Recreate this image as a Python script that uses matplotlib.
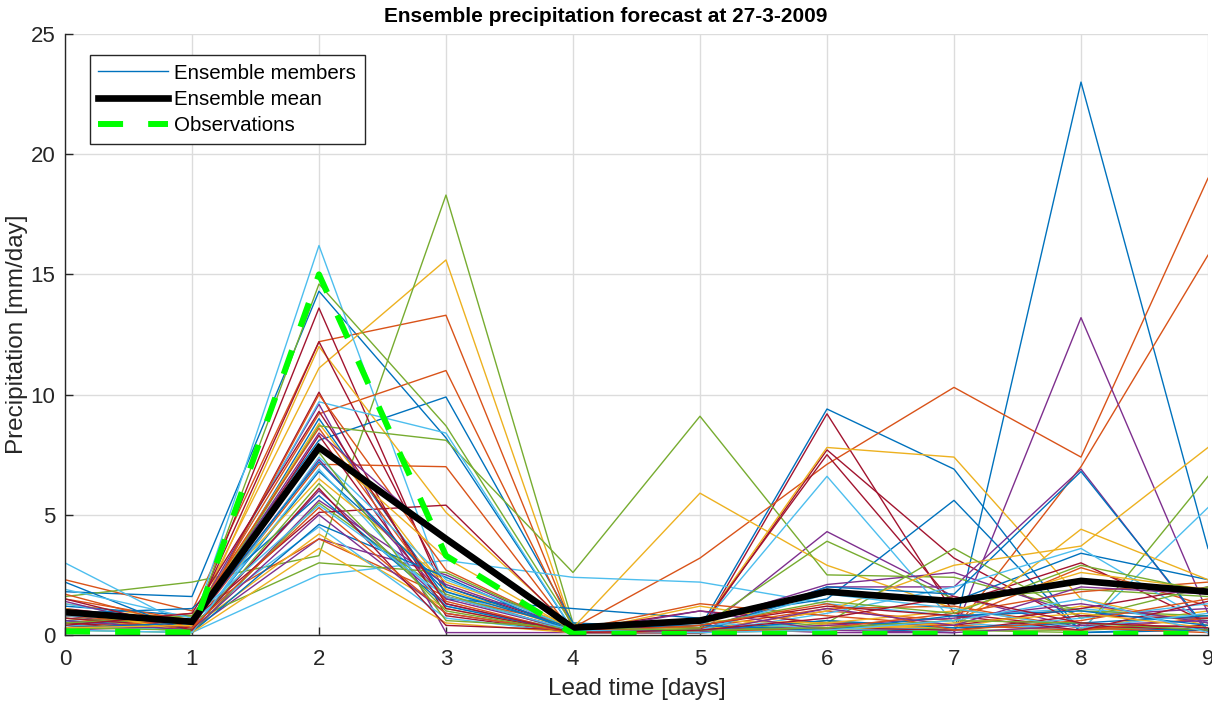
import numpy as np
import matplotlib.pyplot as plt
from cycler import cycler

# ------------------------------------------------------------
# Forecast data (mm/day) per lead time
# ------------------------------------------------------------
lead_days = [0, 1, 2, 3, 4, 5, 6, 7, 8, 9]

# ensemble members, in plotting order (colour follows the default cycle)
members = [
    [1.8, 1.6, 14.3, 8.2, 0.2, 0.1, 0.3, 0.1, 23.0, 3.6],
    [2.3, 1.0, 12.2, 13.3, 0.3, 0.1, 0.4, 0.2, 7.0, 15.8],
    [1.3, 0.6, 11.1, 15.6, 0.3, 0.1, 0.4, 0.3, 1.2, 0.6],
    [0.5, 0.3, 6.0, 1.3, 0.1, 0.1, 4.3, 1.6, 0.3, 0.2],
    [1.6, 2.2, 3.3, 18.3, 0.5, 0.2, 0.3, 0.2, 0.2, 0.4],
    [3.0, 0.3, 16.2, 1.8, 0.1, 0.1, 0.2, 0.3, 0.4, 0.2],
    [0.9, 0.4, 13.6, 1.6, 0.2, 0.1, 9.2, 0.9, 0.3, 0.4],

    [1.2, 0.8, 8.1, 9.9, 0.5, 0.3, 9.4, 6.9, 0.1, 0.2],
    [1.5, 0.6, 9.2, 11.0, 0.3, 3.2, 7.1, 10.3, 7.4, 19.0],
    [0.7, 0.2, 12.0, 5.1, 0.3, 5.9, 2.9, 1.1, 0.3, 1.0],
    [0.8, 0.2, 4.0, 2.5, 0.2, 0.3, 0.1, 0.1, 13.2, 0.9],
    [0.4, 0.3, 14.6, 8.7, 0.4, 0.1, 0.6, 0.2, 0.1, 6.6],
    [0.6, 0.1, 2.5, 3.1, 2.4, 2.2, 1.3, 0.8, 1.1, 0.6],
    [1.1, 0.5, 12.2, 2.0, 0.3, 0.2, 7.7, 3.2, 0.4, 0.2],

    [0.6, 0.3, 9.0, 1.5, 1.1, 0.7, 1.5, 5.6, 0.1, 0.3],
    [0.8, 0.4, 7.1, 7.0, 0.1, 0.2, 1.0, 0.6, 2.8, 1.2],
    [0.4, 0.5, 8.8, 1.9, 0.2, 0.3, 7.8, 7.4, 1.5, 0.4],
    [0.3, 0.6, 9.6, 0.1, 0.1, 0.2, 2.0, 2.0, 6.9, 0.1],
    [0.7, 0.4, 8.7, 8.1, 2.6, 9.1, 2.5, 2.4, 1.0, 0.8],
    [1.3, 0.4, 9.7, 8.4, 0.2, 0.3, 6.6, 0.5, 0.2, 5.3],
    [0.5, 0.2, 10.1, 0.8, 0.1, 0.3, 7.5, 1.3, 3.0, 0.5],

    [0.4, 0.2, 6.8, 2.0, 0.2, 0.1, 1.9, 1.4, 3.4, 2.3],
    [0.5, 0.9, 4.0, 1.6, 0.4, 0.3, 1.1, 1.2, 0.3, 0.1],
    [0.9, 0.3, 4.2, 1.1, 0.1, 1.2, 0.4, 0.3, 4.4, 2.3],
    [1.4, 0.1, 5.6, 2.1, 0.3, 0.5, 2.1, 2.6, 0.8, 1.1],
    [0.2, 0.1, 5.5, 1.7, 0.1, 0.3, 3.9, 1.5, 1.9, 1.6],
    [0.4, 0.2, 6.9, 1.2, 0.2, 0.1, 0.9, 2.0, 3.6, 0.5],
    [0.3, 0.6, 5.1, 5.4, 0.2, 1.0, 0.5, 0.4, 1.1, 2.0],

    [0.9, 1.1, 5.8, 1.2, 0.1, 0.1, 2.0, 1.7, 6.8, 0.2],
    [1.0, 0.2, 10.0, 2.7, 0.2, 1.3, 0.8, 0.4, 0.2, 0.7],
    [0.2, 0.8, 6.5, 2.2, 0.4, 0.2, 1.0, 2.9, 3.7, 7.8],
    [0.2, 0.4, 7.3, 1.5, 0.2, 0.2, 0.4, 0.7, 1.3, 0.5],
    [0.9, 0.6, 3.0, 2.6, 0.2, 0.1, 0.5, 3.6, 0.7, 2.0],
    [0.8, 0.6, 4.5, 0.7, 0.1, 0.5, 0.3, 0.2, 0.7, 1.3],
    [0.7, 0.3, 8.3, 1.1, 0.1, 0.1, 0.3, 0.2, 0.8, 0.7],

    [2.2, 0.1, 4.6, 2.4, 0.1, 0.2, 0.6, 0.3, 0.5, 0.8],
    [0.2, 0.7, 8.6, 1.4, 0.1, 0.1, 0.3, 0.9, 1.8, 2.2],
    [1.1, 0.1, 3.6, 0.5, 0.1, 0.6, 0.5, 1.0, 2.6, 1.9],
    [0.6, 0.2, 5.0, 0.9, 0.1, 1.0, 0.2, 0.1, 0.4, 0.6],
    [0.3, 0.2, 6.3, 1.0, 0.1, 0.4, 1.4, 0.9, 2.9, 1.8],
    [0.2, 0.1, 7.4, 2.3, 0.3, 0.2, 1.7, 1.1, 0.3, 0.9],
    [1.5, 0.2, 6.1, 0.4, 0.2, 0.4, 1.2, 0.8, 0.2, 1.4],

    [0.3, 0.5, 7.2, 1.8, 0.3, 0.4, 0.2, 0.8, 1.0, 0.4],
    [1.7, 0.3, 5.3, 0.9, 0.1, 0.4, 1.3, 0.2, 0.6, 1.5],
    [0.3, 0.4, 7.9, 3.2, 0.2, 0.1, 0.2, 0.5, 0.9, 0.3],
    [1.0, 0.5, 8.4, 3.9, 0.2, 0.1, 1.1, 0.4, 2.0, 1.7],
    [0.5, 0.8, 7.6, 0.6, 0.3, 0.2, 0.3, 0.6, 0.5, 0.2],
    [1.9, 0.7, 5.4, 1.6, 0.2, 0.1, 0.2, 0.6, 1.5, 0.1],
    [0.4, 0.9, 9.3, 1.3, 0.1, 0.2, 0.7, 1.6, 0.5, 0.3],
]

ensemble_mean = [0.95, 0.55, 7.8, 4.0, 0.3, 0.6, 1.8, 1.4, 2.25, 1.8]
observations = [0.15, 0.1, 15.0, 3.3, 0.05, 0.05, 0.05, 0.05, 0.05, 0.05]

# ------------------------------------------------------------
# Style (MATLAB-like look)
# ------------------------------------------------------------
matlab_colors = ["#0072BD", "#D95319", "#EDB120", "#7E2F8E",
                 "#77AC30", "#4DBEEE", "#A2142F"]
plt.rcParams["font.family"] = ["Liberation Sans", "DejaVu Sans"]
plt.rcParams["axes.prop_cycle"] = cycler(color=matlab_colors)

fig = plt.figure(figsize=(12.12, 7.05), dpi=100)
ax = fig.add_axes([0.0536, 0.0993, 0.9431, 0.8525])

for i, m in enumerate(members):
    ax.plot(lead_days, m, linewidth=1.0,
            label="Ensemble members" if i == 0 else None)

ax.plot(lead_days, ensemble_mean, color="black", linewidth=4.8,
        label="Ensemble mean", solid_joinstyle="miter")
ax.plot(lead_days, observations, color="#00FF00", linewidth=4.3,
        linestyle=(0, (4.2, 4.2)), label="Observations")

ax.set_xlim(0, 9)
ax.set_ylim(0, 25)
ax.set_xticks(lead_days)
ax.set_yticks([0, 5, 10, 15, 20, 25])
ax.grid(True, color="#DCDCDC", linewidth=1.0)
ax.set_axisbelow(True)

for side in ["top", "right"]:
    ax.spines[side].set_visible(False)
for side in ["left", "bottom"]:
    ax.spines[side].set_color("#262626")
    ax.spines[side].set_linewidth(1.0)

ax.tick_params(direction="in", length=6, width=1.0, colors="#262626",
               labelsize=16)
ax.tick_params(axis="x", pad=10)
ax.tick_params(axis="y", pad=7)

ax.set_xlabel("Lead time [days]", fontsize=17.5, color="#262626", labelpad=6)
ax.set_ylabel("Precipitation [mm/day]", fontsize=17.5, color="#262626", labelpad=2)
fig.text(0.5, 0.976, "Ensemble precipitation forecast at 27-3-2009",
         fontsize=15, fontweight="bold", ha="center", va="center")

leg = ax.legend(loc="upper left", bbox_to_anchor=(0.0215, 0.965),
                fontsize=14.8, frameon=True, fancybox=False,
                edgecolor="#262626", framealpha=1.0, handlelength=3.4,
                handletextpad=0.3, borderpad=0.42, labelspacing=0.36,
                borderaxespad=0.0)
leg.get_frame().set_linewidth(1.0)

fig.savefig("out.png", dpi=100)
